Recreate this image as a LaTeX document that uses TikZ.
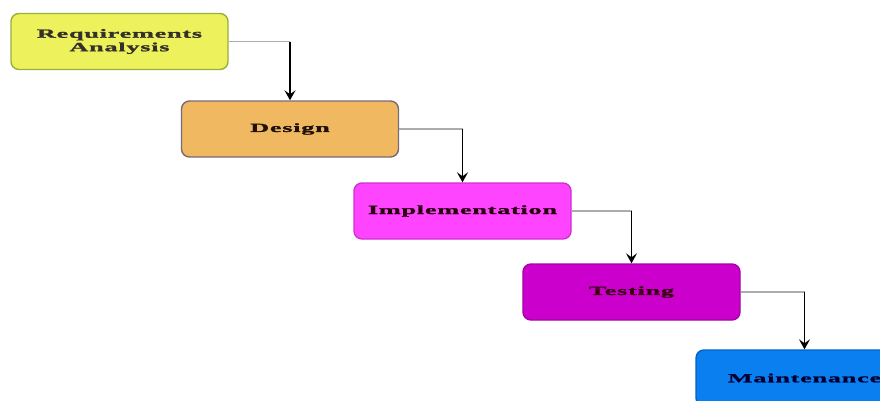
\documentclass[tikz,border=0pt]{standalone}
\usepackage{fontspec}
\usetikzlibrary{arrows.meta}
\newfontfamily\phasefont[FakeStretch=2.1,LetterSpace=6,BoldFeatures={FakeBold=1.5}]{Liberation Serif}
\definecolor{reqfill}{HTML}{EDF25C}
\definecolor{reqdraw}{HTML}{9AAE3C}
\definecolor{desfill}{HTML}{F0B860}
\definecolor{desdraw}{HTML}{7A6A78}
\definecolor{impfill}{HTML}{FF44FF}
\definecolor{impdraw}{HTML}{D030D0}
\definecolor{tstfill}{HTML}{CC00CC}
\definecolor{tstdraw}{HTML}{A800A8}
\definecolor{mntfill}{HTML}{0A80F0}
\definecolor{mntdraw}{HTML}{0062C4}
\tikzset{
  phase/.style={draw, line width=1.4pt, rounded corners=8pt,
    minimum width=217pt, minimum height=56pt, inner sep=0pt,
    align=center, font=\phasefont\bfseries\fontsize{12.5}{13.5}\selectfont},
  flowh/.style={draw=gray!65, line width=1.5pt},
  flowv/.style={draw=black, line width=1.8pt, -{Stealth[length=10pt,width=11pt,inset=4pt]}}
}
\begin{document}
\begin{tikzpicture}[x=1pt,y=-1pt]
  \useasboundingbox (0,0) rectangle (880,400);
  \clip (0,0) rectangle (880,400);
  \node[phase, fill=reqfill, draw=reqdraw, text=black!85!olive] (req) at (119.5,41.5) {Requirements\\Analysis};
  \node[phase, fill=desfill, draw=desdraw, text=black!85!brown] (des) at (290,129) {Design};
  \node[phase, fill=impfill, draw=impdraw, text=black!80!purple] (imp) at (462.5,211) {Implementation};
  \node[phase, fill=tstfill, draw=tstdraw, text=black!70!purple] (tst) at (631.5,292) {Testing};
  \node[phase, fill=mntfill, draw=mntdraw, text=black!80!blue] (mnt) at (804.5,378) {Maintenance};
  % step-down connectors: grey run to the right, black drop onto the next phase
  \foreach \a/\b/\c in {req/des/c1, des/imp/c2, imp/tst/c3, tst/mnt/c4} {
    \coordinate (\c) at (\a.east -| \b.north);
    \draw[flowh] (\a.east) -- (\c);
    \draw[flowv] (\c) -- (\b.north);
  }
\end{tikzpicture}
\end{document}
